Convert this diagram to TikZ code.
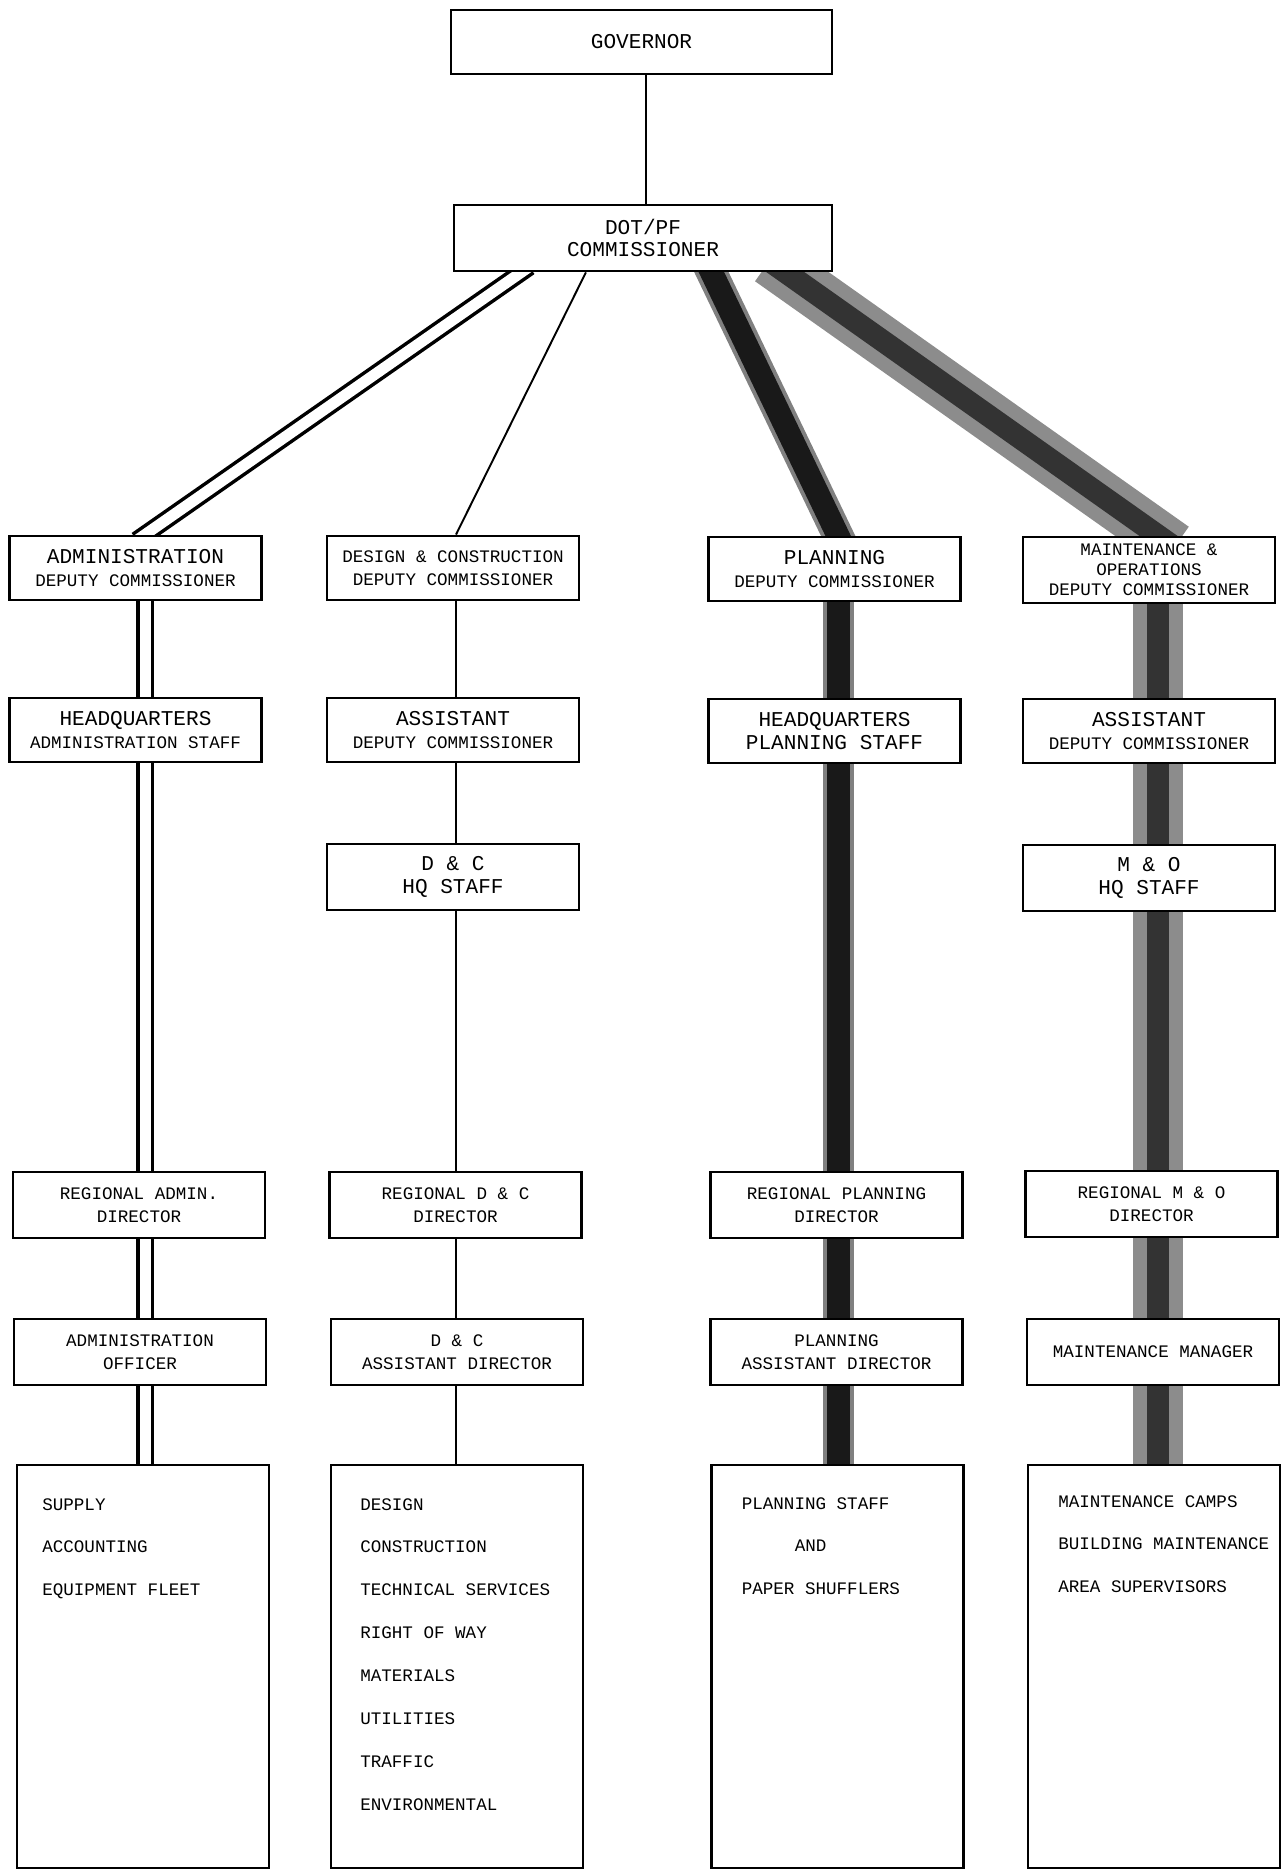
\documentclass[tikz,border=0pt]{standalone}
\usepackage{fontspec}
\setmonofont{Liberation Mono}
\usetikzlibrary{calc,positioning,backgrounds}
\newcommand{\widetype}[1]{{\fontsize{6}{6.4}\selectfont #1}}
\tikzset{post/.style={draw, line width=0.8pt, fill=white, minimum width=25.2mm, minimum height=6.4mm,
    align=center, inner sep=1pt, font=\ttfamily\fontsize{5}{6.4}\selectfont}}
\tikzset{duties/.style={draw, line width=0.8pt, fill=white, minimum width=25.2mm, minimum height=40.3mm}}
\tikzset{dutylist/.style={align=left, inner sep=0pt, font=\ttfamily\fontsize{5}{12.2}\selectfont}}
\tikzset{thinlink/.style={line width=0.55pt}}
\tikzset{pipe/.style={line width=0.35mm, double=white, double distance=1.1mm}}
\tikzset{stick/.style={draw=black!50, line width=0.4mm, double=black!90, double distance=2.3mm}}
\tikzset{band/.style={draw=black!45, line width=1.4mm, double=black!80, double distance=2.2mm}}

\begin{document}
\begin{tikzpicture}[x=0.1mm, y=-0.1mm]
  \useasboundingbox (0,0) rectangle (1287,1872);
  % columns of the chains
  \coordinate (colA) at (145,0);
  \coordinate (colB) at (456,0);
  \coordinate (colC) at (838,0);
  \coordinate (colD) at (1158,0);

  % Top
  \node[post, minimum width=38.1mm] (gov) at (641.5,42) {\widetype{GOVERNOR}};
  \node[post, minimum width=37.8mm, minimum height=6.6mm] (com) at (643,238)
    {\widetype{DOT/PF}\\\widetype{COMMISSIONER}};

  % Deputy commissioners
  \node[post] (adm1) at (135.5,568) {\widetype{ADMINISTRATION}\\DEPUTY COMMISSIONER};
  \node[post] (dc1) at (453,568) {DESIGN \& CONSTRUCTION\\DEPUTY COMMISSIONER};
  \node[post] (pl1) at (834.5,569) {\widetype{PLANNING}\\DEPUTY COMMISSIONER};
  \node[post, minimum height=6.6mm, font=\ttfamily\fontsize{5}{5.7}\selectfont] (mo1) at (1149,570)
    {MAINTENANCE \&\\OPERATIONS\\DEPUTY COMMISSIONER};

  % Headquarters / assistants
  \node[post] (adm2) at (135.5,730) {\widetype{HEADQUARTERS}\\ADMINISTRATION STAFF};
  \node[post] (dc2) at (453,730) {\widetype{ASSISTANT}\\DEPUTY COMMISSIONER};
  \node[post] (pl2) at (834.5,731) {\widetype{HEADQUARTERS}\\\widetype{PLANNING STAFF}};
  \node[post] (mo2) at (1149,731) {\widetype{ASSISTANT}\\DEPUTY COMMISSIONER};

  \node[post, minimum height=6.6mm] (dc3) at (453,877) {\widetype{D \& C}\\\widetype{HQ STAFF}};
  \node[post, minimum height=6.6mm] (mo3) at (1149,878) {\widetype{M \& O}\\\widetype{HQ STAFF}};

  % Regions
  \node[post, minimum height=6.6mm] (adm4) at (139,1205) {REGIONAL ADMIN.\\DIRECTOR};
  \node[post, minimum height=6.6mm] (dc4) at (455.5,1205) {REGIONAL D \& C\\DIRECTOR};
  \node[post, minimum height=6.6mm] (pl4) at (836.5,1205) {REGIONAL PLANNING\\DIRECTOR};
  \node[post, minimum height=6.6mm] (mo4) at (1151.5,1204) {REGIONAL M \& O\\DIRECTOR};

  \node[post, minimum height=6.6mm] (adm5) at (140,1352) {ADMINISTRATION\\OFFICER};
  \node[post, minimum height=6.6mm] (dc5) at (457,1352) {D \& C\\ASSISTANT DIRECTOR};
  \node[post, minimum height=6.6mm] (pl5) at (836.5,1352) {PLANNING\\ASSISTANT DIRECTOR};
  \node[post, minimum height=6.6mm] (mo5) at (1153,1352) {MAINTENANCE MANAGER};

  % Field units
  \node[duties] (adm6) at (143,1666.5) {};
  \node[duties] (dc6) at (457,1666.5) {};
  \node[duties] (pl6) at (837.5,1666.5) {};
  \node[duties] (mo6) at (1154,1666.5) {};
  \node[dutylist, below right=3.4mm and 2.6mm of adm6.north west] (admL)
    {SUPPLY\\ACCOUNTING\\EQUIPMENT FLEET};
  \node[dutylist, below right=3.4mm and 3mm of dc6.north west] (dcL)
    {DESIGN\\CONSTRUCTION\\TECHNICAL SERVICES\\RIGHT OF WAY\\MATERIALS\\UTILITIES\\TRAFFIC\\ENVIRONMENTAL};
  \node[dutylist, below right=3.3mm and 3.1mm of pl6.north west] (plL)
    {PLANNING STAFF\\\hspace*{5.3mm}AND\\PAPER SHUFFLERS};
  \node[dutylist, below right=3.1mm and 3.1mm of mo6.north west] (moL)
    {MAINTENANCE CAMPS\\BUILDING MAINTENANCE\\AREA SUPERVISORS};

  \begin{scope}[on background layer]
    % Lines of authority
    \draw[thinlink] (gov.south -| 646,0) -- (com.north -| 646,0);
    \draw[pipe, shorten <=-1mm, shorten >=-1mm]
      ($(com.south west)!0.18!(com.south east)$) -- (adm1.north -| colA);
    \draw[thinlink] ($(com.south west)!0.35!(com.south east)$) -- (dc1.north -| colB);
    \draw[stick, shorten <=-1.5mm, shorten >=-1.5mm]
      ($(com.south west)!0.68!(com.south east)$) -- (pl1.north -| colC);
    \draw[band, shorten <=-2mm, shorten >=-2mm]
      ($(com.south west)!0.875!(com.south east)$) -- (mo1.north -| colD);

    \foreach \a/\b in {adm1/adm2,adm2/adm4,adm4/adm5,adm5/adm6}
      \draw[pipe] (\a.south -| colA) -- (\b.north -| colA);
    \foreach \a/\b in {dc1/dc2,dc2/dc3,dc3/dc4,dc4/dc5,dc5/dc6}
      \draw[thinlink] (\a.south -| colB) -- (\b.north -| colB);
    \foreach \a/\b in {pl1/pl2,pl2/pl4,pl4/pl5,pl5/pl6}
      \draw[stick] (\a.south -| colC) -- (\b.north -| colC);
    \foreach \a/\b in {mo1/mo2,mo2/mo3,mo3/mo4,mo4/mo5,mo5/mo6}
      \draw[band] (\a.south -| colD) -- (\b.north -| colD);
  \end{scope}
\end{tikzpicture}
\end{document}
